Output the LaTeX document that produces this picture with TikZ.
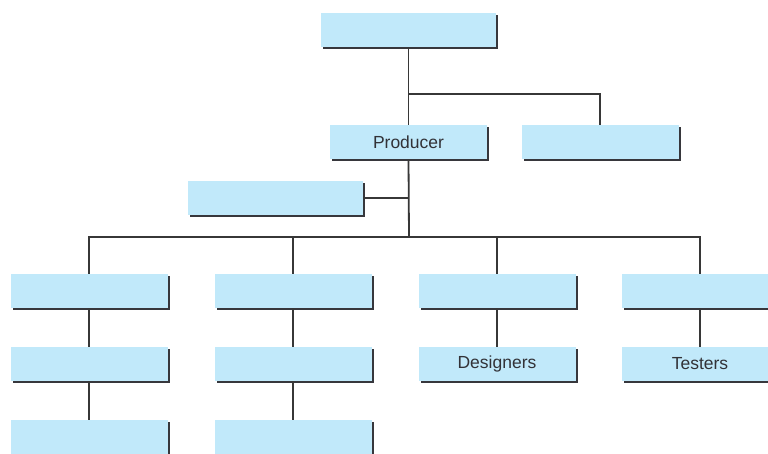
\documentclass[tikz,border=0pt]{standalone}
\usepackage{fontspec}
\setmainfont{Liberation Sans}
\usetikzlibrary{shadows}
\definecolor{boxfill}{RGB}{193,233,250}
\definecolor{shadowc}{RGB}{55,55,60}
\definecolor{linec}{RGB}{55,55,55}
\definecolor{textc}{RGB}{50,50,55}
\begin{document}
\begin{tikzpicture}[x=1pt,y=-1pt,
  orgbox/.style={rectangle, fill=boxfill, minimum width=157pt, minimum height=34pt,
    inner sep=0pt, text=textc, font=\fontsize{17.5}{20}\selectfont,
    drop shadow={shadow xshift=2.2pt, shadow yshift=-2.2pt, fill=shadowc, opacity=1}},
  wide/.style={minimum width=175pt},
  conn/.style={draw=linec, line width=1.8pt}]
\useasboundingbox (0,0) rectangle (768,453);
% boxes
\node[orgbox, wide] (top) at (408.5,30) {};
\node[orgbox] (prod) at (408.5,142) {Producer};
\node[orgbox] (rgt) at (600,142) {};
\node[orgbox, wide] (lft) at (275.5,198) {};
\node[orgbox] (b1) at (89,291) {};
\node[orgbox] (b2) at (293,291) {};
\node[orgbox] (b3) at (497,291) {};
\node[orgbox] (b4) at (700,291) {};
\node[orgbox] (c1) at (89,364) {};
\node[orgbox] (c2) at (293,364) {};
\node[orgbox] (c3) at (497,364) {Designers};
\node[orgbox] (c4) at (700,364) {Testers};
\node[orgbox] (d1) at (89,437) {};
\node[orgbox] (d2) at (293,437) {};
% junctions
\coordinate (j1) at (409,94);
\coordinate (j2) at (409,237);
% connectors
\draw[conn] (top.south) -- (prod.north);
\draw[conn] (j1) -| (rgt.north);
\draw[conn] (prod.south) -- (j2);
\draw[conn] (lft.east) -- (lft.east -| j2);
\draw[conn] (b1.north) |- (j2) -| (b4.north);
\draw[conn] (b2.north |- j2) -- (b2.north);
\draw[conn] (b3.north |- j2) -- (b3.north);
\draw[conn] (b1.south) -- (c1.north);
\draw[conn] (c1.south) -- (d1.north);
\draw[conn] (b2.south) -- (c2.north);
\draw[conn] (c2.south) -- (d2.north);
\draw[conn] (b3.south) -- (c3.north);
\draw[conn] (b4.south) -- (c4.north);
\end{tikzpicture}
\end{document}
